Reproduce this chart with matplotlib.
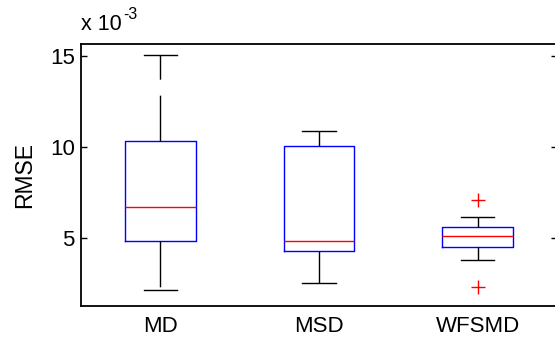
import matplotlib
matplotlib.use("Agg")
import matplotlib.pyplot as plt

plt.rcParams['font.family'] = ['Liberation Sans', 'DejaVu Sans']

categories = ["MD", "MSD", "WFSMD"]
# values in units of 1e-3
whisker_low = [2.14, 2.53, 3.81]
q1 = [4.83, 4.30, 4.52]
median = [6.70, 4.83, 5.10]
q3 = [10.35, 10.07, 5.59]
whisker_high = [15.04, 10.88, 6.17]
outliers = [[], [], [7.09, 2.31]]

scale = 1e-3
stats = []
for i, name in enumerate(categories):
    stats.append(dict(label=name,
                      whislo=whisker_low[i] * scale,
                      q1=q1[i] * scale,
                      med=median[i] * scale,
                      q3=q3[i] * scale,
                      whishi=whisker_high[i] * scale,
                      fliers=[v * scale for v in outliers[i]]))

fig = plt.figure(figsize=(5.55, 3.40), dpi=100)
ax = fig.add_axes([81 / 555, 1 - 306 / 340, (557 - 81) / 555, (306 - 44) / 340])

ax.bxp(stats, positions=[1, 2, 3], widths=0.445, capwidths=0.21,
       showfliers=True,
       boxprops=dict(color='#0000ff', linewidth=1.0),
       medianprops=dict(color='#ff0000', linewidth=1.0),
       whiskerprops=dict(color='black', linewidth=1.0, linestyle=(0, (33, 11.5))),
       capprops=dict(color='black', linewidth=1.0),
       flierprops=dict(marker='+', markeredgecolor='#ff0000', markersize=10,
                       markeredgewidth=1.0, linestyle='none'))

ax.set_xlim(0.5, 3.5)
ax.set_ylim(1.26e-3, 15.66e-3)
ax.set_yticks([5e-3, 10e-3, 15e-3])
ax.set_yticklabels(["5", "10", "15"])
ax.set_xticks([1, 2, 3])
ax.set_xticklabels(categories)

ax.tick_params(axis='y', direction='in', length=4, width=1, left=True, right=True,
               labelsize=16, pad=4.5)
ax.tick_params(axis='x', length=0, labelsize=16, pad=7)
for s in ax.spines.values():
    s.set_linewidth(1.3)
    s.set_color('black')

ax.set_ylabel("RMSE", fontsize=16.5, labelpad=10)

fig.text(81 / 555, 1 - 29.5 / 340, "x 10", fontsize=15.5, ha='left', va='baseline')
fig.text(123 / 555, 1 - 19 / 340, "-3", fontsize=11.5, ha='left', va='baseline')

fig.savefig("out.png", dpi=100)
